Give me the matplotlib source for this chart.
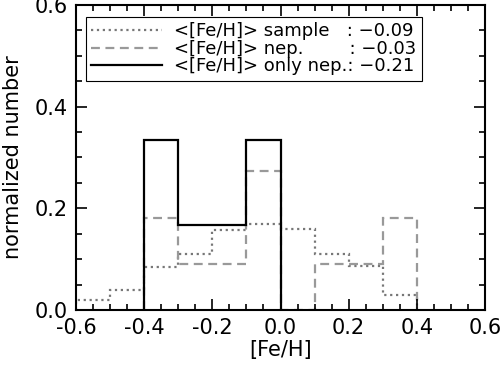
import numpy as np
import matplotlib
matplotlib.use("Agg")
import matplotlib.pyplot as plt
from matplotlib.ticker import MultipleLocator, FormatStrFormatter
from matplotlib.textpath import TextPath
from matplotlib.font_manager import FontProperties

# bin edges in [Fe/H]
edges = [-0.6, -0.5, -0.4, -0.3, -0.2, -0.1, 0.0, 0.1, 0.2, 0.3, 0.4]

# normalized counts per bin
sample = [0.02, 0.04, 0.085, 0.11, 0.157, 0.17, 0.16, 0.11, 0.087, 0.03]
nep = [0.0, 0.0, 2/11, 1/11, 1/11, 3/11, 0.0, 1/11, 1/11, 2/11]
only_nep = [0.0, 0.0, 1/3, 1/6, 1/6, 1/3, 0.0, 0.0, 0.0, 0.0]

names = ["<[Fe/H]> sample", "<[Fe/H]> nep.", "<[Fe/H]> only nep."]
means = ["\u22120.09", "\u22120.03", "\u22120.21"]

# pad names with spaces so the colons line up
fp = FontProperties(family='DejaVu Sans', size=13)
def width(s):
    return TextPath((0, 0), s, prop=fp).get_extents().width
sp = width("a a") - width("aa")
wmax = max(width(n) for n in names)
labels = []
for n, m in zip(names, means):
    k = int(round((wmax - width(n)) / sp))
    labels.append(n + " " * k + ": " + m)

plt.rcParams['font.size'] = 15

fig = plt.figure(figsize=(5, 3.74), dpi=100)
ax = fig.add_axes([0.152, 0.171, 0.818, 0.816])

ax.stairs(sample, edges, baseline=0, color='#777777', linestyle=':', linewidth=1.6, label=labels[0])
ax.stairs(nep[2:], edges[2:], baseline=0, color='#999999', linestyle=(0, (4, 2.5)), linewidth=1.6, label=labels[1])
ax.stairs(only_nep[2:6], edges[2:7], baseline=0, color='black', linewidth=1.6, label=labels[2])

ax.set_xlim(-0.6, 0.6)
ax.set_ylim(0, 0.6)
ax.xaxis.set_major_locator(MultipleLocator(0.2))
ax.xaxis.set_minor_locator(MultipleLocator(0.05))
ax.yaxis.set_major_locator(MultipleLocator(0.2))
ax.yaxis.set_minor_locator(MultipleLocator(0.05))
ax.xaxis.set_major_formatter(FormatStrFormatter('%.1f'))
ax.yaxis.set_major_formatter(FormatStrFormatter('%.1f'))
ax.tick_params(which='both', direction='in', top=True, right=True, width=1.2)
ax.tick_params(which='major', length=8, pad=6)
ax.tick_params(which='minor', length=4)
for s in ax.spines.values():
    s.set_linewidth(1.5)

ax.set_xlabel('[Fe/H]', labelpad=1)
ax.set_ylabel('normalized number', labelpad=8)

leg = ax.legend(loc='upper left', bbox_to_anchor=(0.024, 0.961), borderaxespad=0,
                fancybox=False, edgecolor='black', framealpha=1, handlelength=3.9,
                borderpad=0.3, labelspacing=-0.02, handletextpad=0.7, fontsize=13)
leg.get_frame().set_linewidth(0.8)

fig.savefig('out.png', dpi=100)
